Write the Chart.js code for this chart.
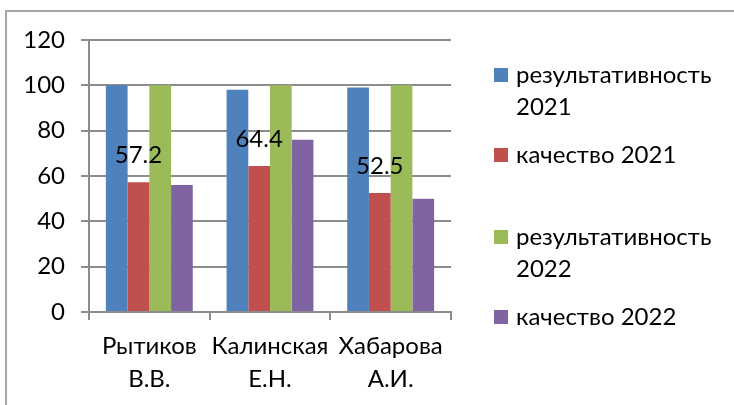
<!DOCTYPE html>
<html>
<head>
<meta charset="utf-8">
<script src="https://cdn.jsdelivr.net/npm/chart.js@4.4.0/dist/chart.umd.min.js"></script>
<style>
  body { margin: 0; background: #fff; }
  #wrap { position: relative; width: 734px; height: 405px; overflow: hidden; }
  #frame { position: absolute; left: 5px; top: 10px; width: 740px; height: 410px;
           border-left: 2px solid #a6a6a6; border-top: 2px solid #a6a6a6; }
  canvas { position: absolute; left: 0; top: 0; }
</style>
</head>
<body>
<div id="wrap">
  <div id="frame"></div>
  <canvas id="chart" width="734" height="405"></canvas>
</div>
<script>
const teachers = [['Рытиков', 'В.В.'], ['Калинская', 'Е.Н.'], ['Хабарова', 'А.И.']];
const seriesNames = [['результативность', '2021'], ['качество 2021'], ['результативность', '2022'], ['качество 2022']];
const seriesColors = ['#4f81bd', '#c0504d', '#9bbb59', '#8064a2'];
const result2021 = [100, 98, 99];
const quality2021 = [57.2, 64.4, 52.5];
const result2022 = [100, 100, 100];
const quality2022 = [56, 76, 50];
const yTicks = [0, 20, 40, 60, 80, 100, 120];

const FONT = 'Lato, "Liberation Sans", sans-serif';
const FONT_SIZE = 24;

// labels only shown on "качество 2021", like in the original
const valueLabels = {
  id: 'valueLabels',
  afterDatasetsDraw(chart) {
    const ctx = chart.ctx;
    const meta = chart.getDatasetMeta(1);
    ctx.save();
    ctx.font = FONT_SIZE + 'px ' + FONT;
    ctx.fillStyle = '#000';
    ctx.textAlign = 'center';
    ctx.textBaseline = 'middle';
    meta.data.forEach((bar, i) => {
      ctx.fillText(String(quality2021[i]), bar.x, bar.y - 27);
    });
    ctx.restore();
  }
};

// legend on the right, names wrap to two lines
const sideLegend = {
  id: 'sideLegend',
  afterDraw(chart) {
    const ctx = chart.ctx;
    const rows = [75, 155, 237, 317];
    ctx.save();
    ctx.font = FONT_SIZE + 'px ' + FONT;
    ctx.textBaseline = 'middle';
    ctx.textAlign = 'left';
    seriesNames.forEach((lines, i) => {
      const y = rows[i];
      ctx.fillStyle = chart.data.datasets[i].backgroundColor;
      ctx.fillRect(494, y - 7, 14, 14);
      ctx.fillStyle = '#000';
      lines.forEach((t, k) => ctx.fillText(t, 516, y + k * 32));
    });
    ctx.restore();
  }
};

const datasets = [result2021, quality2021, result2022, quality2022].map((vals, i) => ({
  label: seriesNames[i].join(' '),
  data: vals,
  backgroundColor: seriesColors[i],
  borderWidth: 0,
  categoryPercentage: 0.72,
  barPercentage: 1
}));

new Chart(document.getElementById('chart'), {
  type: 'bar',
  data: { labels: teachers, datasets: datasets },
  options: {
    responsive: false,
    animation: false,
    events: [],
    layout: { padding: { left: 0, top: 40, right: 283, bottom: 0 } },
    plugins: { legend: { display: false }, tooltip: { enabled: false } },
    scales: {
      x: {
        grid: { drawOnChartArea: false, drawTicks: true, tickLength: 8, color: '#8c8c8c', lineWidth: 2, offset: true },
        border: { color: '#8c8c8c', width: 2 },
        ticks: { color: '#000', font: { family: FONT, size: FONT_SIZE, lineHeight: 1.38 }, padding: 10, maxRotation: 0, autoSkip: false },
        afterFit(scale) { scale.height = 93; }
      },
      y: {
        min: 0,
        max: 120,
        afterBuildTicks(scale) { scale.ticks = yTicks.map(v => ({ value: v })); },
        grid: { color: '#8c8c8c', lineWidth: 2, tickLength: 8 },
        border: { color: '#8c8c8c', width: 2 },
        ticks: { color: '#000', font: { family: FONT, size: FONT_SIZE }, padding: 16 },
        afterFit(scale) { scale.width = 89; }
      }
    }
  },
  plugins: [valueLabels, sideLegend]
});
</script>
</body>
</html>
